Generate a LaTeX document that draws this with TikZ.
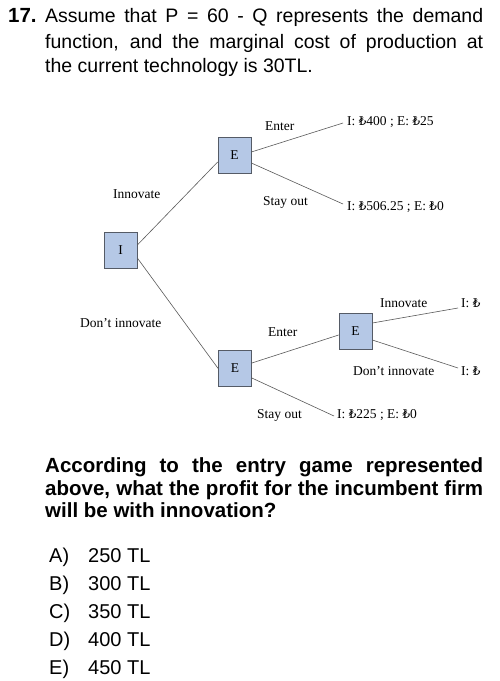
\documentclass[tikz,border=0pt]{standalone}
\usepackage{fontspec}
\setmainfont{Liberation Sans}
\newfontfamily\treefont{Liberation Serif}
\newfontfamily\lirafont{DejaVu Serif}
\newcommand\lir{{\lirafont\fontsize{12}{14}\selectfont ₺}}
\definecolor{boxfill}{HTML}{B5C8E6}
\definecolor{boxline}{HTML}{555B66}
\definecolor{edgecol}{HTML}{5A5A5A}
\tikzset{
  qtext/.style={anchor=base west, inner sep=0pt, font=\fontsize{19.5}{24}\selectfont},
  qbold/.style={anchor=base west, inner sep=0pt, font=\fontsize{20.5}{24}\selectfont\bfseries},
  ans/.style={anchor=base west, inner sep=0pt, font=\fontsize{20}{24}\selectfont},
  player/.style={draw=boxline, fill=boxfill, line width=0.7pt, minimum width=33pt, minimum height=36pt, inner sep=0pt, font=\treefont\fontsize{13.5}{15}\selectfont},
  lab/.style={anchor=base west, inner sep=0pt, font=\treefont\fontsize{13.5}{15}\selectfont},
  edge/.style={draw=edgecol, line width=0.6pt}
}
\begin{document}
\begin{tikzpicture}[x=1pt,y=-1pt]
\useasboundingbox (0,0) rectangle (500,681);
\fill[white] (0,0) rectangle (500,681);
% header
\node[qbold] (num) at (8,22) {17.};
\node[qtext] (l1) at (45,22) {\makebox[438pt][s]{Assume that P = 60 - Q represents the demand}};
\node[qtext] (l2) at (45,48) {\makebox[438pt][s]{function, and the marginal cost of production at}};
\node[qtext] (l3) at (45,72) {the current technology is 30TL.};
% tree
\node[player] (I) at (120.5,250) {I};
\node[player] (E1) at (234.5,155.5) {E};
\node[player] (E2) at (235,368.5) {E};
\node[player] (E3) at (355.5,331.5) {E};
\node[lab] (p1) at (347,125) {I: \lir400 ; E: \lir25};
\node[lab] (p2) at (347,210) {I: \lir506.25 ; E: \lir0};
\node[lab] (p3) at (461,307) {I: \lir};
\node[lab] (p4) at (461,375) {I: \lir};
\node[lab] (p5) at (337,418) {I: \lir225 ; E: \lir0};
\coordinate (c1) at (343,123);
\coordinate (c2) at (343,204);
\coordinate (c3) at (458,308);
\coordinate (c4) at (458,368);
\coordinate (c5) at (334,416);
\draw[edge] ([yshift=5pt]I.east) -- ([yshift=-6.5pt]E1.west);
\draw[edge] ([yshift=-8pt]I.east) -- (E2.west);
\draw[edge] ([yshift=3.5pt]E1.east) -- (c1);
\draw[edge] ([yshift=-7.5pt]E1.east) -- (c2);
\draw[edge] ([yshift=5.5pt]E2.east) -- ([yshift=-3.5pt]E3.west);
\draw[edge] ([yshift=-9.5pt]E2.east) -- (c5);
\draw[edge] ([yshift=8.5pt]E3.east) -- (c3);
\draw[edge] ([yshift=-8.5pt]E3.east) -- (c4);
\node[lab] (t1) at (265,130) {Enter};
\node[lab] (t2) at (113,198) {Innovate};
\node[lab] (t3) at (263,205) {Stay out};
\node[lab] (t4) at (80,327) {Don’t innovate};
\node[lab] (t5) at (268,336) {Enter};
\node[lab] (t6) at (380,307) {Innovate};
\node[lab] (t7) at (353,375) {Don’t innovate};
\node[lab] (t8) at (257,418) {Stay out};
% question
\node[qbold] (q1) at (45,472) {\makebox[438pt][s]{According to the entry game represented}};
\node[qbold] (q2) at (45,495) {\makebox[438pt][s]{above, what the profit for the incumbent firm}};
\node[qbold] (q3) at (45,517) {will be with innovation?};
% answers
\node[ans] (aA) at (49,562) {A)};
\node[ans] (vA) at (88,562) {250 TL};
\node[ans] (aB) at (49,590) {B)};
\node[ans] (vB) at (88,590) {300 TL};
\node[ans] (aC) at (49,618) {C)};
\node[ans] (vC) at (88,618) {350 TL};
\node[ans] (aD) at (49,646) {D)};
\node[ans] (vD) at (88,646) {400 TL};
\node[ans] (aE) at (49,674) {E)};
\node[ans] (vE) at (88,674) {450 TL};
\end{tikzpicture}
\end{document}
